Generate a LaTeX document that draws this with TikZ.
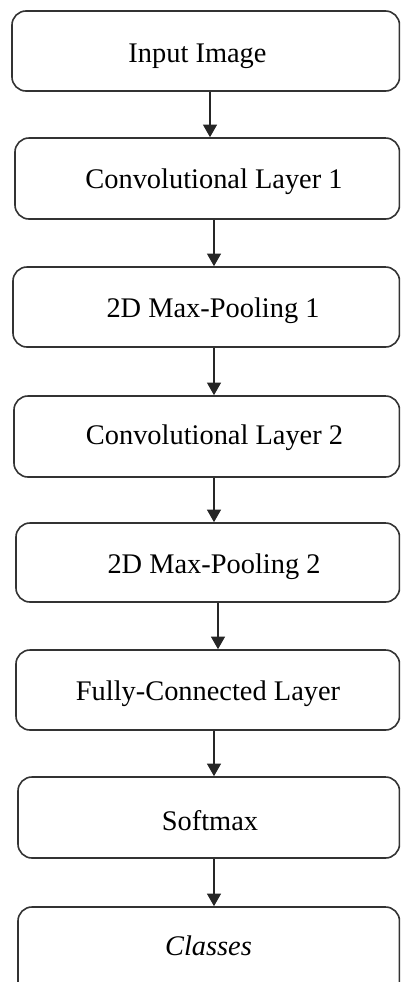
\documentclass[tikz,border=0pt]{standalone}
\usepackage{fontspec}
\setmainfont{Liberation Serif}
\usetikzlibrary{arrows.meta,fit}
\begin{document}
\begin{tikzpicture}[x=0.75pt,y=-0.75pt,
  box/.style={draw=black!80, line width=1.2pt, rounded corners=10.5pt, inner sep=0pt},
  lbl/.style={font=\fontsize{21.3}{25}\selectfont, anchor=base, inner sep=0pt},
  arr/.style={draw=black!85, line width=1.1pt, -{Triangle[width=10.5pt,length=9.5pt]}}]
\useasboundingbox (0,0) rectangle (400,982);
\clip (0,0) rectangle (400,982);
% boxes
\node[box, fit={(12,11) (399.5,91)}] (b1) {};
\node[box, fit={(15,138) (399.5,219)}] (b2) {};
\node[box, fit={(13,267) (399.5,347)}] (b3) {};
\node[box, fit={(14,396) (399.5,477)}] (b4) {};
\node[box, fit={(16,523) (399.5,602)}] (b5) {};
\node[box, fit={(16,650) (399.5,730)}] (b6) {};
\node[box, fit={(18,777) (399.5,858)}] (b7) {};
\node[box, fit={(18,907) (399.5,1000)}] (b8) {};
% labels
\node[lbl] (t1) at (197.5,62) {Input Image};
\node[lbl] (t2) at (214,188) {Convolutional Layer 1};
\node[lbl] (t3) at (213,317) {2D Max-Pooling 1};
\node[lbl] (t4) at (214.5,444) {Convolutional Layer 2};
\node[lbl] (t5) at (214,573) {2D Max-Pooling 2};
\node[lbl] (t6) at (208,700) {Fully-Connected Layer};
\node[lbl] (t7) at (210,830) {Softmax};
\node[lbl] (t8) at (208.5,955) {\itshape Classes};
% arrow columns
\coordinate (x1) at (210,0);
\coordinate (x2) at (214,0);
\coordinate (x5) at (218,0);
\draw[arr] (b1.south -| x1) -- (b2.north -| x1);
\draw[arr] (b2.south -| x2) -- (b3.north -| x2);
\draw[arr] (b3.south -| x2) -- (b4.north -| x2);
\draw[arr] (b4.south -| x2) -- (b5.north -| x2);
\draw[arr] (b5.south -| x5) -- (b6.north -| x5);
\draw[arr] (b6.south -| x2) -- (b7.north -| x2);
\draw[arr] (b7.south -| x2) -- (b8.north -| x2);
\end{tikzpicture}
\end{document}
